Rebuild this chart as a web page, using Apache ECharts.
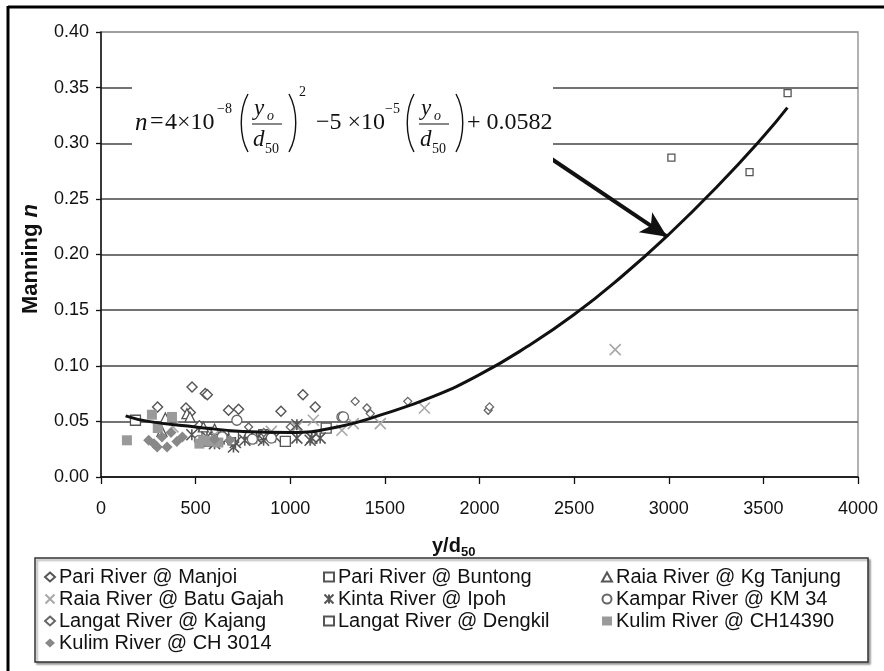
<!DOCTYPE html>
<html>
<head>
<meta charset="utf-8">
<script src="https://cdn.jsdelivr.net/npm/echarts@6/dist/echarts.min.js"></script>
<style>
  html, body { margin: 0; padding: 0; background: #fff; }
  #chart { width: 884px; height: 671px; }
</style>
</head>
<body>
<div id="chart"></div>
<script>
// x ticks / y ticks
var xTicks = [0, 500, 1000, 1500, 2000, 2500, 3000, 3500, 4000];
var yTicks = [0, 0.05, 0.10, 0.15, 0.20, 0.25, 0.30, 0.35, 0.40];

// measured points, [y/d50, Manning n]
var pariManjoi = [[299,0.063],[449,0.062],[472,0.058],[481,0.081],[551,0.075],[562,0.074],[674,0.060],[727,0.061],[951,0.059],[1067,0.074],[1132,0.063],[520,0.046],[640,0.038]];
var pariBuntong = [[182,0.051],[974,0.032],[560,0.040],[700,0.036],[860,0.038],[1190,0.044]];
var raiaKgTanjung = [[340,0.053],[454,0.057],[470,0.054],[541,0.045],[322,0.041],[600,0.043],[780,0.040]];
var raiaBatuGajah = [[1035,0.045],[1122,0.051],[1273,0.042],[1333,0.048],[1476,0.048],[1709,0.062],[2717,0.1145],[380,0.045],[600,0.038],[820,0.036],[900,0.041]];
var kintaIpoh = [[700,0.027],[710,0.031],[822,0.035],[859,0.033],[921,0.036],[1035,0.035],[1105,0.033],[1114,0.035],[1158,0.035],[1035,0.047],[600,0.030],[650,0.034],[760,0.033],[560,0.036],[480,0.038]];
var kamparKM34 = [[718,0.051],[1273,0.054],[1281,0.054],[520,0.033],[640,0.036],[800,0.034],[900,0.035]];
var langatKajang = [[1343,0.068],[1405,0.062],[1423,0.057],[1621,0.068],[2046,0.060],[2053,0.063],[1000,0.045],[860,0.040],[780,0.045]];
var langatDengkil = [[3014,0.287],[3427,0.274],[3628,0.345],[560,0.031],[690,0.032]];
var kulimCH14390 = [[137,0.033],[269,0.056],[375,0.054],[520,0.030],[540,0.033],[580,0.032],[620,0.031],[300,0.044]];
var kulimCH3014 = [[252,0.033],[297,0.027],[349,0.027],[322,0.036],[401,0.032],[280,0.030],[370,0.040],[430,0.036],[600,0.034],[680,0.033]];

// trend line
var trend = [[130,0.055],[250,0.050],[500,0.045],[750,0.041],[1000,0.040],[1250,0.045],[1500,0.057],[1750,0.072],[2000,0.092],[2250,0.117],[2500,0.146],[2750,0.180],[3000,0.218],[3250,0.260],[3500,0.306],[3627,0.332]];

// arrow from equation to curve
var arrowFrom = [2336, 0.291];
var arrowTo = [2991, 0.216];

var SANS = '"Liberation Sans", Arial, sans-serif';
var SERIF = '"Liberation Serif", "Times New Roman", serif';

var CROSS = 'path://M0,0L10,10M10,0L0,10';
var STAR = 'path://M0,0L10,10M10,0L0,10M5,0L5,10';

function scat(name, data, symbol, size, fill, stroke, bw) {
  return {
    name: name,
    type: 'scatter',
    data: data,
    symbol: symbol,
    symbolSize: size,
    itemStyle: { color: fill, borderColor: stroke, borderWidth: bw, opacity: 1 },
    z: 2
  };
}

function eq(x, y, text, size, italic, align) {
  return {
    type: 'text', x: x, y: y, z: 101,
    style: {
      text: text,
      fill: '#111',
      font: (italic ? 'italic ' : '') + size + 'px ' + SERIF,
      textAlign: align || 'left',
      textVerticalAlign: 'middle'
    }
  };
}

function paren(x0, left) {
  var d = left ? -9 : 9;
  return {
    type: 'bezierCurve', z: 101,
    shape: { x1: x0, y1: 94, x2: x0, y2: 152, cpx1: x0 + d, cpy1: 110, cpx2: x0 + d, cpy2: 136 },
    style: { stroke: '#111', lineWidth: 1.4, fill: null }
  };
}

function frac(x) {
  return [
    eq(x, 109, 'y', 23, true),
    eq(x + 13, 116, 'o', 14, true),
    { type: 'line', z: 101, shape: { x1: x - 2, y1: 124, x2: x + 28, y2: 124 }, style: { stroke: '#111', lineWidth: 1 } },
    eq(x - 1, 140, 'd', 23, true),
    eq(x + 11, 149, '50', 14, false)
  ];
}

var legendNames = [
  ['Pari River @ Manjoi', 'Raia River @ Batu Gajah', 'Langat River @ Kajang', 'Kulim River @ CH 3014'],
  ['Pari River @ Buntong', 'Kinta River @ Ipoh', 'Langat River @ Dengkil'],
  ['Raia River @ Kg Tanjung', 'Kampar River @ KM 34', 'Kulim River @ CH14390']
];
var legendLeft = [44, 323, 601];

var graphics = [
  // outer frame
  { type: 'line', shape: { x1: 8, y1: 7, x2: 884, y2: 7 }, style: { stroke: '#000', lineWidth: 3 } },
  { type: 'line', shape: { x1: 8, y1: 6, x2: 8, y2: 671 }, style: { stroke: '#000', lineWidth: 3 } },
  // legend box
  { type: 'rect', z: 0, shape: { x: 35, y: 558, width: 833, height: 104 },
    style: { fill: '#fff', stroke: '#333', lineWidth: 1.5, shadowColor: 'rgba(0,0,0,0.35)', shadowOffsetX: 2, shadowOffsetY: 2, shadowBlur: 2 } },
  // axis titles
  { type: 'text', x: 31, y: 259, rotation: Math.PI / 2,
    style: { text: '{b|Manning }{i|n}', textAlign: 'center', textVerticalAlign: 'middle',
      rich: { b: { font: 'bold 22px ' + SANS, fill: '#111' }, i: { font: 'italic bold 22px ' + SANS, fill: '#111' } } } },
  { type: 'text', x: 432, y: 546,
    style: { text: '{b|y/d}{s|50}', textAlign: 'left', textVerticalAlign: 'middle',
      rich: { b: { font: 'bold 20px ' + SANS, fill: '#111' }, s: { font: 'bold 13px ' + SANS, fill: '#111', padding: [12, 0, 0, 0] } } } },
  // white patch behind the equation
  { type: 'rect', z: 100, shape: { x: 132, y: 78, width: 421, height: 86 }, style: { fill: '#fff' } },
  eq(135, 123, 'n', 25, true),
  eq(150, 122, '=', 24, false),
  eq(165, 123, '4×10', 24, false),
  eq(217, 109, '−8', 14, false),
  paren(248, true),
  paren(289, false),
  eq(299, 92, '2', 14, false),
  eq(316, 123, '−5 ×10', 24, false),
  eq(385, 109, '−5', 14, false),
  paren(414, true),
  paren(456, false),
  eq(467, 123, '+ 0.0582', 24, false)
].concat(frac(254)).concat(frac(421));

var option = {
  animation: false,
  backgroundColor: '#fff',
  textStyle: { fontFamily: SANS },
  grid: { left: 101, right: 26, top: 32, bottom: 194, show: true, borderColor: '#999', borderWidth: 1.5, backgroundColor: 'transparent' },
  legend: legendNames.map(function (names, i) {
    return {
      data: names,
      orient: 'vertical',
      left: legendLeft[i],
      top: 567,
      itemWidth: 10,
      itemHeight: 9,
      itemGap: 2,
      padding: 0,
      selectedMode: false,
      textStyle: { fontSize: 20, lineHeight: 20, color: '#111', fontFamily: SANS, padding: [0, 0, 0, -1] }
    };
  }),
  xAxis: {
    type: 'value', min: xTicks[0], max: xTicks[xTicks.length - 1], interval: 500,
    axisLine: { lineStyle: { color: '#111', width: 1.5 } },
    axisTick: { show: true, length: 7, lineStyle: { color: '#111', width: 1.3 } },
    axisLabel: { fontSize: 18, color: '#111', margin: 23, fontFamily: SANS, formatter: function (v) { return String(v); } },
    splitLine: { show: false }
  },
  yAxis: {
    type: 'value', min: yTicks[0], max: yTicks[yTicks.length - 1], interval: 0.05,
    axisLine: { show: true, lineStyle: { color: '#111', width: 1.5 } },
    axisTick: { show: true, length: 5, lineStyle: { color: '#111', width: 1.3 } },
    axisLabel: { fontSize: 18, color: '#111', margin: 12, fontFamily: SANS, formatter: function (v) { return v.toFixed(2); } },
    splitLine: { show: true, lineStyle: { color: ['#444', '#444', '#444', '#444', '#444', '#444', '#444', '#444', '#999'], width: 1.6 } }
  },
  series: [
    scat('Pari River @ Manjoi', pariManjoi, 'diamond', 10, '#fff', '#555', 1.4),
    scat('Pari River @ Buntong', pariBuntong, 'rect', 10, '#fff', '#555', 1.3),
    scat('Raia River @ Kg Tanjung', raiaKgTanjung, 'triangle', 10, '#fff', '#555', 1.3),
    scat('Raia River @ Batu Gajah', raiaBatuGajah, CROSS, 11, 'rgba(0,0,0,0)', '#a8a8a8', 1.6),
    scat('Kinta River @ Ipoh', kintaIpoh, STAR, 11, 'rgba(0,0,0,0)', '#555', 1.6),
    scat('Kampar River @ KM 34', kamparKM34, 'circle', 10, '#fff', '#666', 1.3),
    scat('Langat River @ Kajang', langatKajang, 'diamond', 8, '#fff', '#666', 1.3),
    scat('Langat River @ Dengkil', langatDengkil, 'rect', 7, '#fff', '#555', 1.3),
    scat('Kulim River @ CH14390', kulimCH14390, 'rect', 10, '#9a9a9a', '#9a9a9a', 0),
    scat('Kulim River @ CH 3014', kulimCH3014, 'diamond', 11, '#888', '#888', 0),
    {
      name: 'trend',
      type: 'line',
      data: trend,
      smooth: 0.5,
      showSymbol: false,
      lineStyle: { color: '#111', width: 3 },
      z: 5,
      markLine: {
        silent: true,
        symbol: ['none', 'arrow'],
        symbolSize: [18, 26],
        label: { show: false },
        lineStyle: { color: '#111', width: 4, type: 'solid' },
        data: [[{ coord: arrowFrom }, { coord: arrowTo }]]
      }
    }
  ],
  graphic: graphics
};

var chart = echarts.init(document.getElementById('chart'));
chart.setOption(option);
</script>
</body>
</html>
